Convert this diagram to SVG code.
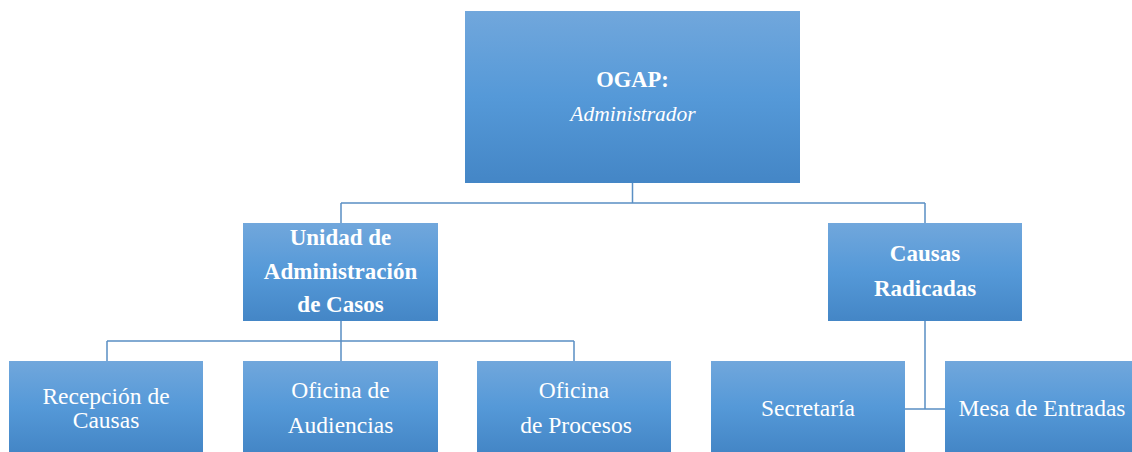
<svg xmlns="http://www.w3.org/2000/svg" width="1132" height="452" viewBox="0 0 1132 452">
<defs>
<linearGradient id="g" x1="0" y1="0" x2="0" y2="1">
<stop offset="0" stop-color="#71a7dc"/>
<stop offset="0.5" stop-color="#5599d8"/>
<stop offset="1" stop-color="#4486c6"/>
</linearGradient>
<style>
.box{fill:url(#g);}
.c{fill:none;stroke:#5a8fc4;stroke-width:1.5;}
</style>
</defs>
<rect width="1132" height="452" fill="#ffffff"/>
<g id="connectors">
<path class="c" d="M632.5 183 V203 M341 203 H925 M341 203 V223 M925 203 V223"/>
<path class="c" d="M341 321 V361 M107 341 H574 M107 341 V361 M574 341 V361"/>
<path class="c" d="M925 321 V409 M905 409 H945"/>
</g>
<g font-family="'Liberation Serif', 'Times New Roman', serif" fill="#ffffff" text-anchor="middle" font-size="23.5">
<g id="ogap">
<rect class="box" x="465" y="11" width="335" height="172"/>
<text x="632.5" y="86.5" font-weight="bold" font-size="22.5">OGAP:</text>
<text x="633" y="121" font-style="italic" font-size="21.5">Administrador</text>
</g>
<g id="unidad" font-weight="bold" font-size="23">
<rect class="box" x="243" y="223" width="195" height="98"/>
<text x="340.5" y="245">Unidad de</text>
<text x="340.5" y="279">Administración</text>
<text x="340.5" y="312">de Casos</text>
</g>
<g id="causas" font-weight="bold" font-size="23">
<rect class="box" x="828" y="223" width="194" height="98"/>
<text x="925" y="261">Causas</text>
<text x="925" y="296">Radicadas</text>
</g>
<g id="recepcion">
<rect class="box" x="9" y="361" width="194" height="91"/>
<text x="106" y="404">Recepción de</text>
<text x="106" y="428">Causas</text>
</g>
<g id="audiencias">
<rect class="box" x="243" y="361" width="195" height="91"/>
<text x="340.5" y="398">Oficina de</text>
<text x="340.5" y="433">Audiencias</text>
</g>
<g id="procesos">
<rect class="box" x="477" y="361" width="194" height="91"/>
<text x="574" y="398">Oficina</text>
<text x="576" y="433">de Procesos</text>
</g>
<g id="secretaria">
<rect class="box" x="711" y="361" width="194" height="91"/>
<text x="808" y="416">Secretaría</text>
</g>
<g id="mesa">
<rect class="box" x="945" y="361" width="194" height="91"/>
<text x="1042" y="416">Mesa de Entradas</text>
</g>
</g>
</svg>
